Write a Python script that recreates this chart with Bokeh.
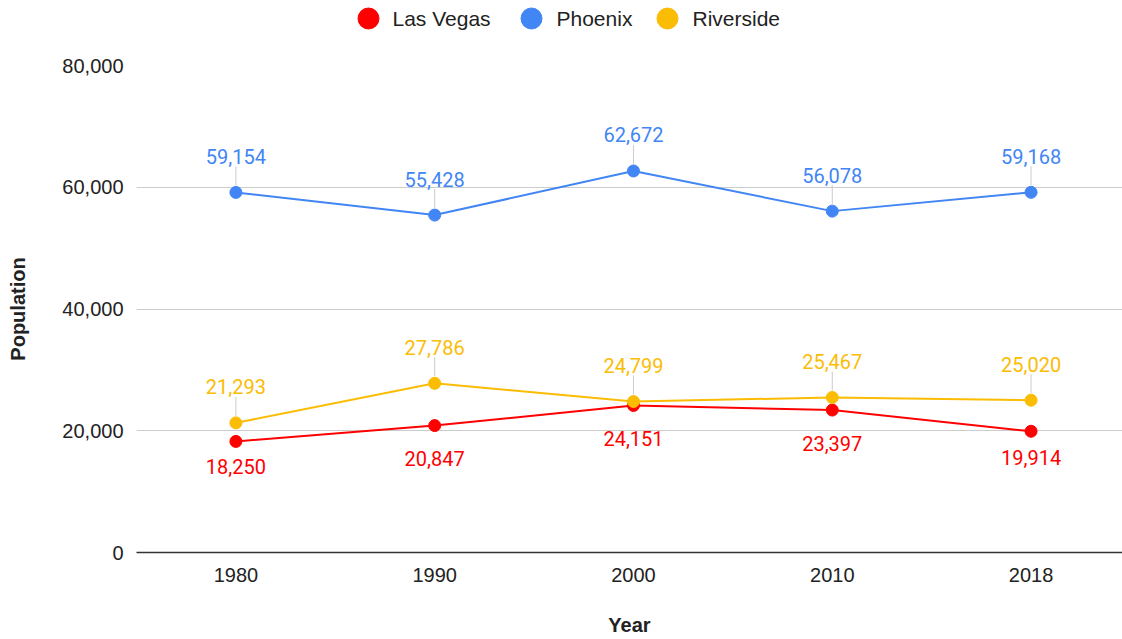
from bokeh.plotting import figure
from bokeh.models import ColumnDataSource, LabelSet, Range1d, FixedTicker, NumeralTickFormatter
from bokeh.layouts import column
from bokeh.embed import file_html
from bokeh.resources import INLINE
from bokeh.core.properties import value

# ---- data ----
years = ["1980", "1990", "2000", "2010", "2018"]
las_vegas = [18250, 20847, 24151, 23397, 19914]
phoenix = [59154, 55428, 62672, 56078, 59168]
riverside = [21293, 27786, 24799, 25467, 25020]
series_names = ["Las Vegas", "Phoenix", "Riverside"]
y_ticks = [0, 20000, 40000, 60000, 80000]

# ---- styles / layout ----
colors = ["#ff0000", "#4285f4", "#fbbc04"]
W = 1122
LEG_H = 48
MAIN_H = 591
BORDER_LEFT = 136
BORDER_TOP = 17
BORDER_BOTTOM = 87
FRAME_H = MAIN_H - BORDER_TOP - BORDER_BOTTOM
Y_MAX = 80000
UPP = Y_MAX / FRAME_H  # data units per pixel
X_START, X_END = 0.5, 5.46   # chart area continues a little past the right edge
AX_FONT = "Liberation Sans"
LBL_FONT = "Roboto"
AX_SIZE = "20px"
LEG_SIZE = "21px"
LBL_SIZE = "20px"
TXT = "#222222"

series = [las_vegas, phoenix, riverside]
label_above = [False, True, True]
lv_label_dy = [-25, -33, -33, -33, -26]

xpos = list(range(1, len(years) + 1))

p = figure(width=W, height=MAIN_H, x_range=Range1d(X_START, X_END), y_range=Range1d(0, Y_MAX),
           output_backend="svg", toolbar_location=None,
           min_border_left=BORDER_LEFT, min_border_right=0,
           min_border_top=BORDER_TOP, min_border_bottom=BORDER_BOTTOM)
p.outline_line_color = None
p.xgrid.grid_line_color = None
p.ygrid.grid_line_color = "#cccccc"
p.ygrid.grid_line_width = 1

p.yaxis.ticker = FixedTicker(ticks=y_ticks)
p.yaxis.formatter = NumeralTickFormatter(format="0,0")
p.yaxis.axis_line_color = None
p.yaxis.major_tick_line_color = None
p.yaxis.minor_tick_line_color = None
p.yaxis.major_label_standoff = 7
p.yaxis.major_label_text_font = AX_FONT
p.yaxis.major_label_text_font_size = AX_SIZE
p.yaxis.major_label_text_color = TXT
p.yaxis.axis_label = "Population"
p.yaxis.axis_label_text_font = AX_FONT
p.yaxis.axis_label_text_font_size = AX_SIZE
p.yaxis.axis_label_text_font_style = "bold"
p.yaxis.axis_label_text_color = TXT
p.yaxis.axis_label_standoff = 30

p.xaxis.ticker = FixedTicker(ticks=xpos)
p.xaxis.major_label_overrides = {x: y for x, y in zip(xpos, years)}
p.xaxis.axis_line_color = "#333333"
p.xaxis.axis_line_width = 1.5
p.xaxis.major_tick_line_color = None
p.xaxis.minor_tick_line_color = None
p.xaxis.major_label_standoff = 9
p.xaxis.major_label_text_font = AX_FONT
p.xaxis.major_label_text_font_size = AX_SIZE
p.xaxis.major_label_text_color = TXT
p.xaxis.axis_label = "Year"
p.xaxis.axis_label_text_font = AX_FONT
p.xaxis.axis_label_text_font_size = AX_SIZE
p.xaxis.axis_label_text_font_style = "bold"
p.xaxis.axis_label_text_color = TXT
p.xaxis.axis_label_standoff = 29

for name, vals, col, above in zip(series_names, series, colors, label_above):
    labels = [f"{v:,}" for v in vals]
    dy = [36] * len(vals) if above else lv_label_dy
    src = ColumnDataSource(dict(x=xpos, y=vals, label=labels, dy=dy,
                                y0=[v + 7 * UPP for v in vals],
                                y1=[v + 26 * UPP for v in vals]))
    if above:
        p.segment(x0="x", y0="y0", x1="x", y1="y1", source=src,
                  line_color="#cccccc", line_width=1)
    p.line("x", "y", source=src, line_color=col, line_width=2)
    p.scatter("x", "y", source=src, size=12, fill_color=col, line_color=col)
    p.add_layout(LabelSet(x="x", y="y", text="label", source=src, y_offset="dy",
                          text_align="center", text_baseline="middle",
                          text_font=value(LBL_FONT), text_font_size=LBL_SIZE,
                          text_color=col))

# ---- legend strip above the chart (its ranges are in page pixels) ----
leg_cx = [368, 531, 667]
leg_tx = [392, 556, 692]
LEG_Y = 18
lg = figure(width=W, height=LEG_H, x_range=Range1d(BORDER_LEFT, W), y_range=Range1d(LEG_H, 0),
            output_backend="svg", toolbar_location=None,
            min_border_left=BORDER_LEFT, min_border_right=0, min_border_top=0, min_border_bottom=0)
lg.axis.visible = False
lg.grid.grid_line_color = None
lg.outline_line_color = None
lg.scatter(x=leg_cx, y=[LEG_Y] * 3, size=21, fill_color=colors, line_color=colors)
lg.text(x=leg_tx, y=[LEG_Y] * 3, text=series_names, text_align="left", text_baseline="middle",
        text_font=value(AX_FONT), text_font_size=LEG_SIZE, text_color=TXT)

layout = column(lg, p, spacing=0)
open("out.html", "w").write(file_html(layout, INLINE))
